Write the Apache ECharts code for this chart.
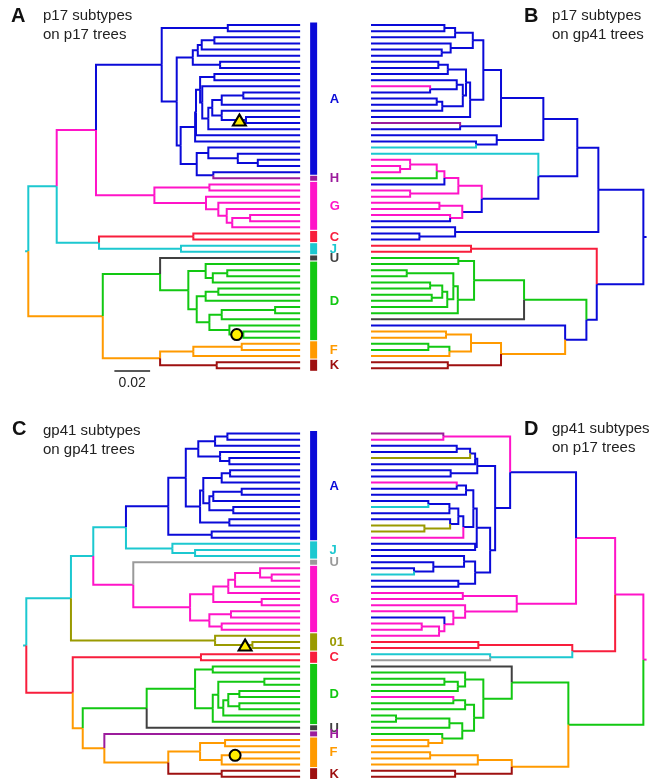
<!DOCTYPE html>
<html>
<head>
<meta charset="utf-8">
<title>p17 / gp41 subtype trees</title>
<script src="https://cdn.jsdelivr.net/npm/echarts@6/dist/echarts.min.js"></script>
<style>
  html, body { margin: 0; padding: 0; background: #fff; }
  #chart { width: 671px; height: 779px; }
</style>
</head>
<body>
<div id="chart"></div>
<script>
// subtype codes -> colour and label (V = unclassified on gp41, R = CRF01)
const subtypeColors = {
  A: '#0a0ad8', H: '#9c1c9c', G: '#ff14c8', C: '#f81e3c', J: '#1cc8d0',
  U: '#404040', V: '#9a9a9a', D: '#12c812', F: '#ff9a00', K: '#9e1010', R: '#9a9a00'
};
const subtypeNames = {
  A: 'A', H: 'H', G: 'G', C: 'C', J: 'J', U: 'U', V: 'U', D: 'D', F: 'F', K: 'K', R: '01'
};

// trees: leaves are subtype codes, internal nodes are ")height+code"
// height = distance from root in 0.001 substitutions/site, code = branch colour
const treeA = `(
 (
  (
   ((A,A)111.7A,
    (((((A,A)104.2A,A)97.1A,A)94.9A,(A,A)107.4A)92.1A,
     (((((A,A)104.2A,(A,((((A,A)120.4A,A)108.3A,(A,(A,A)121.9A)108.3A)103.0A,A)100.8A)97.4A)96.2A,A)93.9A,A)93.4A,
      ((A,(A,(A,A)128.5A)117.3A)100.8A,(A,H)103.6A)94.3A)85.3A
    )83.1A
   )74.7A,
   ((G,G)101.4G,(G,(G,(G,((G,G)124.2G,G)114.2G)111.1G)106.4G)99.5G)70.6G
  )37.9G,
  ((C,C)92.4C,(J,J)85.5J)39.6J
 )15.9J,
 (
  (U,((D,((D,D)111.4D,D)103.3D)99.3D,(((D,D)106.4D,D)99.3D,(((D,D)138.2D,D)108.3D,(D,(D,D)120.4D)112.6D)101.4D)94.3D)89.6D)73.8D,
  (((F,F)119.5F,F)92.4F,(K,K)105.5K)73.8F
 )41.7F
)0J`;

const treeB = `(
 (
  (
   (
    (
     (
      (((A,A)111.4A,A)105.4A,(A,(A,A)112.9A)107.9A)95.5A,
      ((((A,A)114.8A,A)109.5A,((A,(G,A)119.4A)104.5A,((A,A)115.7A,A)112.6A)101.1A)99.3A,A)97.0A
     )89.6A,
     (H,A)102.6A
    )79.7A,
    (A,(A,J)93.7A)82.1A
   )56.0A,
   (J,
    (((((G,(G,G)136.2G)130.6G,D)115.7G,A)111.4G,(G,G)130.6G)103.6G,
     ((G,G)114.2G,(G,A)108.2G)101.4A
    )90.5A
   )58.8A
  )37.0A,
  (A,(A,A)125.4A)105.4A
 )25.2A,
 ((C,C)96.5C,
  (
   (((D,D)103.6D,(((D,D)132.5D,(((D,D)119.4D,(D,D)118.5D)112.6D,D)109.8D)106.4D,D)103.9D)94.8D,U)66.8D,
   (A,(((F,F)110.5F,((D,D)120.4D,F)108.6F)96.5F,(K,K)109.5K)79.7F)43.8A
  )31.9A
 )26.1A
)0A`;

const treeC = `(
 (
  (
   (
    (((((A,A)112.6A,A)105.7A,(A,(A,A)113.7A)108.5A)96.3A,((((A,A)114.1A,A)109.4A,(((A,A)120.6A,A)104.7A,(A,A)115.9A)102.5A)99.1A,(A,A)113.7A)97.3A)89.3A,(A,A)103.8A)79.5A,
    (J,(J,J)94.5J)81.8J
   )55.8J,
   (V,(((((G,(G,G)137.4G)130.9G,G)116.9G,G)113.1G,(G,G)131.8G)104.7G,((G,G)114.6G,(G,G)109.4G)102.5G)91.7G)59.9G
  )37.5J,
  (R,(R,R)126.6R)105.7R
 )25.0J,
 ((C,C)97.8C,
  (
   (((D,D)104.4D,(((D,D)133.3D,(((D,D)119.3D,(D,D)119.3D)113.1D,D)110.3D)107.5D,D)104.4D)94.5D,U)67.4D,
   (H,(((F,F)111.3F,((F,F)119.7F,F)109.4F)97.3F,(K,K)109.4K)79.5F)43.7F
  )31.6F
 )26.0C
)0J`;

const treeD = `(
 (
  (
   ((H,G)112.0G,
    (((((A,A)104.5A,R)97.0A,A)94.2A,(A,A)107.9A)93.0A,
     (
      ((((G,A)104.5A,A)99.3A,((((A,J)120.4A,A)108.6A,(A,(R,R)122.6R)108.2A)103.6A,G)100.8A)95.2A,(A,A)94.2A)93.3A,
      ((A,(A,(A,J)128.4A)117.6A)100.4A,(A,A)103.6A)94.2A
     )85.8A
    )83.0A
   )74.6A,
   ((G,G)101.1G,(G,(G,(A,((G,G)124.1G,G)114.4G)111.4G)106.4G)99.8G)70.9G
  )37.7G,
  ((C,C)92.4C,(J,V)85.8J)39.8C
 )15.8G,
 (
  (U,((D,((D,D)111.4D,D)103.9D)99.8D,(((G,D)106.4D,D)99.8D,(((D,D)138.5D,D)108.6D,(D,(F,F)120.4F)112.6D)101.4D)94.8D)89.6D)73.7D,
  (((F,F)119.4F,F)92.7F,(K,K)105.4K)73.7F
 )42.0D
)0G`;

// tip line height of each panel (A, B, C, D)
const tipDepth = [152.2, 152.5, 153.3, 152.5];

// highlighted sequences: [height, row, symbol]
const marksA = [[118.2, 15.5, 'triangle'], [116.7, 50.5, 'circle']];
const marksC = [[122.5, 34.5, 'triangle'], [116.9, 52.5, 'circle']];

// scale bar: 0.02 substitutions/site
const scaleBarValue = 20;
const scaleBarLabel = '0.02';

const panelLetters = ['A', 'B', 'C', 'D'];
const panelTitles = [
  'p17 subtypes\non p17 trees',
  'p17 subtypes\non gp41 trees',
  'gp41 subtypes\non gp41 trees',
  'gp41 subtypes\non p17 trees'
];

const FONT = '"Liberation Sans", Arial, Helvetica, sans-serif';
const PX_PER_UNIT = 1.786;   // horizontal scale shared by all four trees
const MARGIN = 5;            // extra axis room on the root side

function parseTree(src) {
  const s = src.replace(/\s+/g, '');
  let i = 0;
  function node() {
    if (s[i] === '(') {
      i++;
      const kids = [node()];
      while (s[i] === ',') { i++; kids.push(node()); }
      i++;
      const m = /^([\d.]+)([A-Z])/.exec(s.slice(i));
      i += m[0].length;
      return { depth: +m[1], code: m[2], kids: kids };
    }
    return { code: s[i++], kids: null };
  }
  return node();
}

function layoutTree(src, tip) {
  const root = parseTree(src);
  const leaves = [];
  const edges = [];
  let row = 0;
  (function place(n) {
    if (!n.kids) {
      n.depth = tip;
      n.row = row++;
      leaves.push(n.code);
      return;
    }
    n.kids.forEach(place);
    n.row = (n.kids[0].row + n.kids[n.kids.length - 1].row) / 2;
  })(root);
  edges.push([-1.8, root.row, 0, root.row, root.code]);
  (function walk(n) {
    if (!n.kids) return;
    n.kids.forEach(function (k) {
      edges.push([n.depth, n.row, k.depth, k.row, k.code]);
      walk(k);
    });
  })(root);
  return { edges: edges, leaves: leaves };
}

function subtypeRuns(leaves) {
  const runs = [];
  leaves.forEach(function (c, i) {
    const last = runs[runs.length - 1];
    if (last && last.code === c) last.end = i;
    else runs.push({ code: c, start: i, end: i });
  });
  return runs;
}

// rootX: pixel of the root, tipX: pixel of the aligned tips
const panels = [
  { tree: treeA, rootX: 28.3, tipX: 300, top: 25, bars: true, marks: marksA },
  { tree: treeB, rootX: 643.3, tipX: 371, top: 25, bars: false, marks: [] },
  { tree: treeC, rootX: 26.3, tipX: 300, top: 433.5, bars: true, marks: marksC },
  { tree: treeD, rootX: 643.3, tipX: 371, top: 433.5, bars: false, marks: [] }
];

const grids = [], xAxes = [], yAxes = [], series = [];

panels.forEach(function (p, idx) {
  const tip = tipDepth[idx];
  const lay = layoutTree(p.tree, tip);
  const inverse = p.rootX > p.tipX;
  const span = (tip + MARGIN) * PX_PER_UNIT;
  const left = inverse ? p.tipX : p.rootX - MARGIN * PX_PER_UNIT;
  grids.push({ left: left, top: p.top, width: span, height: 343.3, containLabel: false, outerBoundsMode: 'none' });
  xAxes.push({ type: 'value', gridIndex: idx, min: -MARGIN, max: tip, inverse: inverse, show: false });
  yAxes.push({ type: 'value', gridIndex: idx, min: 0, max: lay.leaves.length - 1, inverse: true, show: false });

  const edges = lay.edges;
  series.push({
    type: 'custom',
    xAxisIndex: idx,
    yAxisIndex: idx,
    silent: true,
    clip: false,
    data: edges.map(function (e) { return [e[0], e[1], e[2], e[3]]; }),
    renderItem: function (params, api) {
      const e = edges[params.dataIndex];
      const a = api.coord([e[0], e[1]]);
      const b = api.coord([e[0], e[3]]);
      const c = api.coord([e[2], e[3]]);
      return {
        type: 'polyline',
        shape: { points: [a, b, c] },
        style: { stroke: subtypeColors[e[4]], lineWidth: 2, fill: null }
      };
    }
  });

  if (p.bars) {
    const runs = subtypeRuns(lay.leaves);
    series.push({
      type: 'custom',
      xAxisIndex: idx,
      yAxisIndex: idx,
      silent: true,
      clip: false,
      data: runs.map(function (r) { return [tip, r.start, r.end]; }),
      renderItem: function (params, api) {
        const r = runs[params.dataIndex];
        const a = api.coord([tip, r.start]);
        const b = api.coord([tip, r.end]);
        const x = a[0] + 10;
        const col = subtypeColors[r.code];
        return {
          type: 'group',
          children: [
            { type: 'rect', shape: { x: x, y: a[1] - 2.5, width: 7, height: b[1] - a[1] + 5 }, style: { fill: col } },
            { type: 'text', style: { text: subtypeNames[r.code], x: x + 19.5, y: (a[1] + b[1]) / 2 + 0.5, fill: col,
                font: 'bold 13px ' + FONT, verticalAlign: 'middle', align: 'left' } }
          ]
        };
      }
    });
  }

  if (p.marks.length) {
    series.push({
      type: 'scatter',
      xAxisIndex: idx,
      yAxisIndex: idx,
      silent: true,
      z: 5,
      data: p.marks.map(function (m) {
        return {
          value: [m[0], m[1]],
          symbol: m[2],
          symbolSize: m[2] === 'triangle' ? [13, 11] : 11
        };
      }),
      itemStyle: { color: '#ffee00', borderColor: '#000', borderWidth: 2, opacity: 1 }
    });
  }
});

// scale bar under panel A
series.push({
  type: 'custom',
  xAxisIndex: 0,
  yAxisIndex: 0,
  silent: true,
  clip: false,
  data: [[48.2, 56.45]],
  renderItem: function (params, api) {
    const a = api.coord([48.2, 56.45]);
    const b = api.coord([48.2 + scaleBarValue, 56.45]);
    return {
      type: 'group',
      children: [
        { type: 'line', shape: { x1: a[0], y1: a[1], x2: b[0], y2: b[1] }, style: { stroke: '#222', lineWidth: 1.6 } },
        { type: 'text', style: { text: scaleBarLabel, x: (a[0] + b[0]) / 2, y: a[1] + 5, fill: '#222',
            font: '14px ' + FONT, align: 'center', verticalAlign: 'top' } }
      ]
    };
  }
});

const titlePos = [
  { letter: [11, 6], text: [43, 6] },
  { letter: [524, 6], text: [552, 6] },
  { letter: [12, 419], text: [43, 421] },
  { letter: [524, 419], text: [552, 419] }
];
const titles = [];
panelLetters.forEach(function (l, i) {
  titles.push({ text: l, left: titlePos[i].letter[0], top: titlePos[i].letter[1], padding: 0,
    textStyle: { fontSize: 20, fontWeight: 'bold', color: '#111', fontFamily: FONT } });
  titles.push({ text: panelTitles[i], left: titlePos[i].text[0], top: titlePos[i].text[1], padding: 0,
    textStyle: { fontSize: 15, fontWeight: 'normal', lineHeight: 19, color: '#222', fontFamily: FONT } });
});

const chart = echarts.init(document.getElementById('chart'));
chart.setOption({
  animation: false,
  backgroundColor: '#fff',
  title: titles,
  grid: grids,
  xAxis: xAxes,
  yAxis: yAxes,
  series: series
});
</script>
</body>
</html>
